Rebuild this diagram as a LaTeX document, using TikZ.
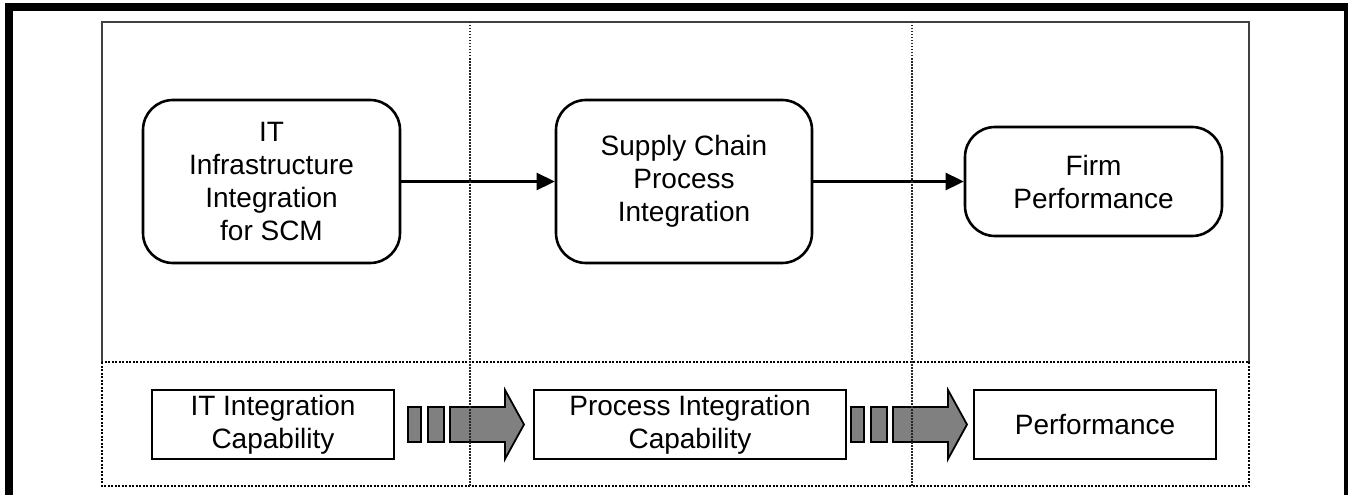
\documentclass[tikz,border=0pt]{standalone}
\usepackage{fontspec}
\setmainfont{Liberation Sans}
\usetikzlibrary{arrows.meta}
\tikzset{
  stage/.style={draw,line width=2.6pt,rounded corners=30pt,align=center,inner sep=0pt},
  capbox/.style={draw,line width=2.4pt,align=center,inner sep=0pt,minimum height=69pt},
  flow/.style={line width=2.6pt,-{Triangle[length=18pt,width=17pt]}},
  blockarr/.style={draw,fill=black!50,line width=1.8pt,line join=miter},
  divider/.style={black!85,line width=1.3pt,dash pattern=on 1.5pt off 1.5pt}
}
\begin{document}
\begin{tikzpicture}[x=1pt,y=-1pt,font=\fontsize{28}{33}\selectfont]
\useasboundingbox (0,0) rectangle (1348,495);
\draw[line width=8pt] (9,495) -- (9,7) -- (1348,7) -- (1348,495);
\draw[black!75,line width=2pt] (102,362) -- (102,22) -- (1249,22) -- (1249,362);
\draw[line width=2pt,dash pattern=on 2pt off 1.5pt] (102,362) rectangle (1249,486);
% upper row
\node[stage,minimum width=257pt,minimum height=163pt] (infra) at (271.5,181.5) {IT\\Infrastructure\\Integration\\for SCM};
\node[stage,minimum width=256pt,minimum height=163pt] (proc) at (684,181.5) {Supply Chain\\Process\\Integration};
\node[stage,minimum width=257pt,minimum height=109pt] (firm) at (1093.5,181.5) {Firm\\Performance};
\draw[flow] (infra) -- (proc);
\draw[flow] (proc) -- (firm);
% lower row
\node[capbox,minimum width=242pt] (itcap) at (273,424.5) {IT Integration\\Capability};
\node[capbox,minimum width=312pt] (proccap) at (690,424.5) {Process Integration\\Capability};
\node[capbox,minimum width=242pt] (perf) at (1095,424.5) {Performance};
\foreach \x in {408,851} {
  \draw[blockarr] (\x,407) rectangle ++(13,35);
  \draw[blockarr] (\x+20,407) rectangle ++(16,35);
  \draw[blockarr] (\x+42,407) -- ++(55,0) -- ++(0,-17) -- ++(19,34.5) -- ++(-19,34.5) -- ++(0,-17) -- ++(-55,0) -- cycle;
}
\foreach \x in {470,912}
  \draw[divider] (\x,22) -- (\x,486);
\end{tikzpicture}
\end{document}
